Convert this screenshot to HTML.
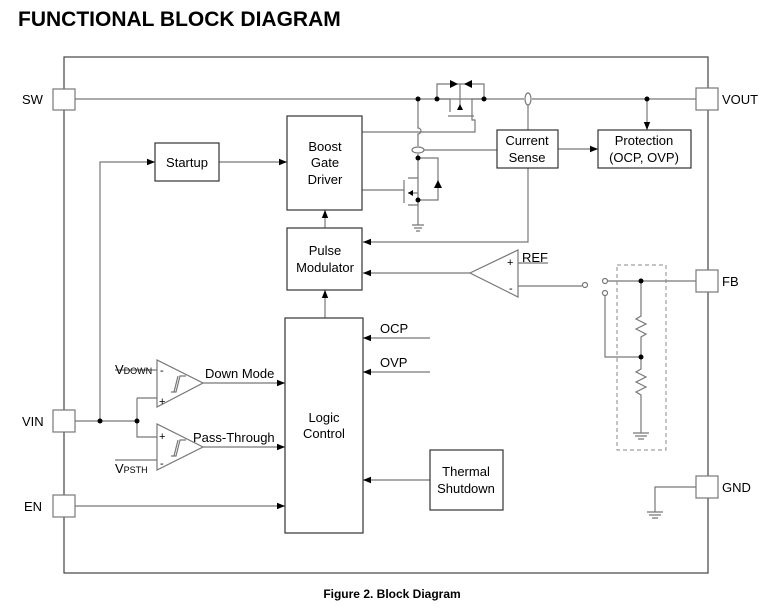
<!DOCTYPE html>
<html><head><style>
html,body{margin:0;padding:0;background:#fff;}
svg{display:block;font-family:"Liberation Sans",Arial,sans-serif;}
</style></head><body>
<svg width="775" height="613" viewBox="0 0 775 613" xmlns="http://www.w3.org/2000/svg">
<defs>
<marker id="a" viewBox="0 0 10 10" refX="10" refY="5" markerWidth="8" markerHeight="8" orient="auto" markerUnits="userSpaceOnUse"><path d="M0,1 L10,5 L0,9 z" fill="#000"/></marker>
</defs>
<text x="18" y="26" font-size="21" font-weight="bold" fill="#000">FUNCTIONAL BLOCK DIAGRAM</text>
<g fill="none" stroke="#444" stroke-width="1.2">
<rect x="64" y="57" width="644" height="516"/>
</g>
<g fill="#fff" stroke="#777" stroke-width="1.2">
<rect x="53" y="89" width="22" height="21"/>
<rect x="696" y="88" width="22" height="22"/>
<rect x="696" y="270" width="22" height="22"/>
<rect x="696" y="476" width="22" height="22"/>
<rect x="53" y="410" width="22" height="22"/>
<rect x="53" y="495" width="22" height="22"/>
</g>
<g font-size="13" fill="#000">
<text x="22" y="104">SW</text>
<text x="722" y="104">VOUT</text>
<text x="722" y="286">FB</text>
<text x="722" y="492">GND</text>
<text x="22" y="426">VIN</text>
<text x="24" y="511">EN</text>
</g>
<g fill="none" stroke="#777" stroke-width="1.2">
<!-- SW line -->
<path d="M75,99 H524 M532,99 H696"/>
<!-- MOSFET top -->
<path d="M437,99 V84 H484 V99 M460,84 V110 M437,99 H450 V112 M484,99 H472 V112 M448,116 H474 M472,112 V120 H475 V132 H362"/>
<!-- vertical switch node -->
<path d="M418,99 V128 A3,3 0 0 1 418,134 V146 M418,154 V205 M418,158 H438 V200 H418 M418,205 V225"/>
<path d="M412,225 H424 M414,228 H422 M416,231 H420"/>
<!-- NMOS -->
<path d="M404,180 V203 M408,178 H418 M408,193 H418 M408,205 H418 M362,190 H404"/>
<path d="M423,150 H497"/>
<!-- current sense -->
<path d="M528,105 V130 M528,168 V242 H363" marker-end="url(#a)"/>
<path d="M558,149 H598" marker-end="url(#a)"/>
<path d="M647,99 V130" marker-end="url(#a)"/>
<!-- error amp -->
<path d="M470,273 H363" marker-end="url(#a)"/>
<path d="M518,250 V297 L470,273 Z"/>
<path d="M518,263 H548 M518,286 H582 M608,281 H696 M605,296 V357 H641 M641,281 V316 L636,319 L646,324 L636,329 L646,334 L641,337 V357 V369 L636,372 L646,377 L636,382 L646,387 L636,392 L641,395 V433"/>
<path d="M633,433 H649 M635,436 H647 M638,439 H644"/>
<!-- arrows up -->
<path d="M325,228 V210" marker-end="url(#a)"/>
<path d="M325,318 V290" marker-end="url(#a)"/>
<!-- startup -->
<path d="M100,421 V162 H155" marker-end="url(#a)"/>
<path d="M219,162 H287" marker-end="url(#a)"/>
<!-- VIN -->
<path d="M75,421 H137 M137,398 V437 H157 M137,398 H157 M115,370 H157 M115,460 H157"/>
<path d="M157,360 V407 L203,383 Z M157,424 V470 L203,447 Z"/>
<path d="M171,392 H176 L180,376 H186 M174,392 L178,376 M171,456 H176 L180,440 H186 M174,456 L178,440"/>
<path d="M203,383 H285" marker-end="url(#a)"/>
<path d="M203,447 H285" marker-end="url(#a)"/>
<path d="M75,506 H285" marker-end="url(#a)"/>
<path d="M430,338 H363" marker-end="url(#a)"/>
<path d="M430,372 H363" marker-end="url(#a)"/>
<path d="M430,480 H363" marker-end="url(#a)"/>
<!-- GND -->
<path d="M696,487 H655 V512 M647,512 H663 M649,515 H661 M652,518 H658"/>
</g>
<g fill="none" stroke="#888" stroke-width="1" stroke-dasharray="4,3"><rect x="617" y="265" width="49" height="185"/></g>
<g fill="#fff" stroke="#777" stroke-width="1.2">
<ellipse cx="528" cy="99" rx="3" ry="6"/>
<ellipse cx="418" cy="150" rx="6" ry="3"/>
<circle cx="585" cy="285" r="2.5"/><circle cx="605" cy="281" r="2.5"/><circle cx="605" cy="293" r="2.5"/>
</g>
<g fill="#000">
<circle cx="418" cy="99" r="2.5"/><circle cx="437" cy="99" r="2.5"/><circle cx="484" cy="99" r="2.5"/><circle cx="647" cy="99" r="2.5"/>
<circle cx="418" cy="158" r="2.5"/><circle cx="418" cy="200" r="2.5"/>
<circle cx="641" cy="281" r="2.5"/><circle cx="641" cy="357" r="2.5"/>
<circle cx="100" cy="421" r="2.5"/><circle cx="137" cy="421" r="2.5"/>
<path d="M450,80 L458,84 L450,88 Z M458,80 V88 M472,80 L464,84 L472,88 Z M464,80 V88"/>
<path d="M457,110 L460,104 L463,110 Z"/>
<path d="M434,188 L438,180 L442,188 Z M434,180 H442"/>
<path d="M408,193 L413,190 L413,196 Z"/>
</g>
<g fill="#fff" stroke="#333" stroke-width="1.2">
<rect x="155" y="143" width="64" height="38"/>
<rect x="287" y="116" width="75" height="94"/>
<rect x="287" y="228" width="75" height="62"/>
<rect x="285" y="318" width="78" height="215"/>
<rect x="497" y="130" width="61" height="38"/>
<rect x="598" y="130" width="93" height="38"/>
<rect x="430" y="450" width="73" height="60"/>
</g>
<g font-size="13" fill="#000" text-anchor="middle">
<text x="187" y="167">Startup</text>
<text x="325" y="151">Boost</text><text x="325" y="167">Gate</text><text x="325" y="184">Driver</text>
<text x="325" y="255">Pulse</text><text x="325" y="272">Modulator</text>
<text x="324" y="422">Logic</text><text x="324" y="438">Control</text>
<text x="527" y="145">Current</text><text x="527" y="162">Sense</text>
<text x="644" y="145">Protection</text><text x="644" y="162">(OCP, OVP)</text>
<text x="466" y="476">Thermal</text><text x="466" y="493">Shutdown</text>
</g>
<g font-size="13" fill="#000">
<text x="380" y="333">OCP</text><text x="380" y="367">OVP</text>
<text x="522" y="262">REF</text>
<text x="205" y="378">Down Mode</text>
<text x="193" y="442">Pass-Through</text>
<text x="115" y="374">V<tspan font-size="9">DOWN</tspan></text>
<text x="115" y="473">V<tspan font-size="9">PSTH</tspan></text>
<text x="160" y="374" font-size="11">-</text><text x="159" y="405" font-size="11">+</text>
<text x="159" y="440" font-size="11">+</text><text x="160" y="467" font-size="11">-</text>
<text x="507" y="266" font-size="11">+</text><text x="509" y="292" font-size="11">-</text>
</g>
<text x="392" y="598" font-size="12" font-weight="bold" text-anchor="middle">Figure 2. Block Diagram</text>
</svg>
</body></html>
